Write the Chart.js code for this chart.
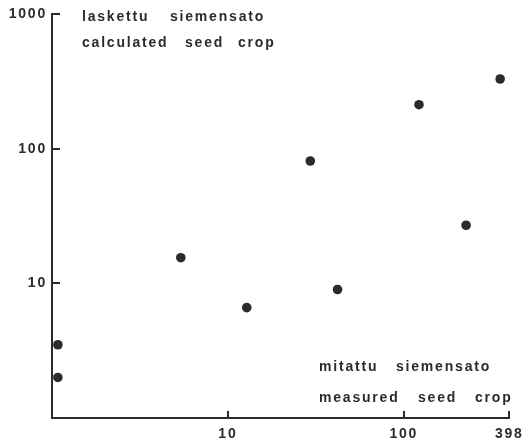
<!DOCTYPE html>
<html>
<head>
<meta charset="utf-8">
<script src="https://cdn.jsdelivr.net/npm/chart.js@4/dist/chart.umd.min.js"></script>
<style>
  html, body { margin: 0; padding: 0; background: #ffffff; }
  #wrap { width: 529px; height: 445px; }
</style>
</head>
<body>
<div id="wrap"><canvas id="c" width="529" height="445"></canvas></div>
<script>
// ---- data ----
const measuredSeedCrop   = [1.08, 1.08, 5.4, 12.8, 29.4, 42, 122, 226, 353];
const calculatedSeedCrop = [3.5, 2.0, 15.5, 6.6, 81, 9.0, 212, 27, 329];
const xTickValues = [10, 100, 398];
const yTickValues = [10, 100, 1000];
const xRange = [1, 398];
const yRange = [1, 1000];
const topLabelLines = [["laskettu", "siemensato"], ["calculated", "seed", "crop"]];
const bottomLabelLines = [["mitattu", "siemensato"], ["measured", "seed", "crop"]];

const points = measuredSeedCrop.map((x, i) => ({ x: x, y: calculatedSeedCrop[i] }));

const INK = '#2b2b2b';
const FONT_FAMILY = '"Liberation Sans", Arial, sans-serif';
const FONT_SIZE = 14;
const SPACING = '1.8px';

const letterSpacingPlugin = {
  id: 'letterSpacing',
  beforeDraw(chart) { chart.ctx.letterSpacing = SPACING; }
};

const axisTicksPlugin = {
  id: 'axisTicks',
  afterDraw(chart) {
    const ctx = chart.ctx;
    const xs = chart.scales.x, ys = chart.scales.y;
    const area = chart.chartArea;
    ctx.save();
    ctx.strokeStyle = INK;
    ctx.lineWidth = 2;
    ctx.beginPath();
    xs.ticks.forEach(t => {
      const px = Math.round(xs.getPixelForValue(t.value));
      ctx.moveTo(px, area.bottom);
      ctx.lineTo(px, area.bottom - 7);
    });
    ys.ticks.forEach(t => {
      const py = Math.round(ys.getPixelForValue(t.value));
      ctx.moveTo(area.left, py);
      ctx.lineTo(area.left + 8, py);
    });
    ctx.stroke();

    // annotation texts
    ctx.fillStyle = INK;
    ctx.font = 'bold ' + FONT_SIZE + 'px ' + FONT_FAMILY;
    ctx.letterSpacing = SPACING;
    ctx.textBaseline = 'alphabetic';
    ctx.textAlign = 'left';
    const place = [
      { words: topLabelLines[0], xs: [82, 170], y: 21 },
      { words: topLabelLines[1], xs: [82, 185, 238], y: 46.5 },
      { words: bottomLabelLines[0], xs: [319, 396], y: 371 },
      { words: bottomLabelLines[1], xs: [319, 418, 475], y: 401.5 }
    ];
    place.forEach(line => {
      line.words.forEach((w, i) => ctx.fillText(w, line.xs[i], line.y));
    });
    ctx.restore();
  }
};

new Chart(document.getElementById('c'), {
  type: 'scatter',
  data: {
    datasets: [{
      data: points,
      backgroundColor: INK,
      borderWidth: 0,
      pointRadius: 4.8,
      pointHoverRadius: 4.8
    }]
  },
  options: {
    responsive: false,
    animation: false,
    events: [],
    layout: { padding: { top: 14, right: 17, left: 0, bottom: 0 } },
    plugins: { legend: { display: false }, tooltip: { enabled: false } },
    scales: {
      x: {
        type: 'logarithmic',
        min: xRange[0],
        max: xRange[1],
        afterBuildTicks(scale) { scale.ticks = xTickValues.map(v => ({ value: v })); },
        afterFit(scale) { scale.height = 27; },
        grid: { display: false, drawTicks: false, tickLength: 0 },
        border: { display: true, color: INK, width: 2 },
        ticks: {
          autoSkip: false,
          maxRotation: 0,
          padding: 8,
          color: INK,
          font: { family: FONT_FAMILY, size: FONT_SIZE, weight: 'bold' },
          callback: v => String(v)
        }
      },
      y: {
        type: 'logarithmic',
        min: yRange[0],
        max: yRange[1],
        afterBuildTicks(scale) { scale.ticks = yTickValues.map(v => ({ value: v })); },
        afterFit(scale) { scale.width = 52; },
        grid: { display: false, drawTicks: false, tickLength: 0 },
        border: { display: true, color: INK, width: 2 },
        ticks: {
          autoSkip: false,
          padding: 5,
          color: INK,
          font: { family: FONT_FAMILY, size: FONT_SIZE, weight: 'bold' },
          callback: v => String(v)
        }
      }
    }
  },
  plugins: [letterSpacingPlugin, axisTicksPlugin]
});
</script>
</body>
</html>
